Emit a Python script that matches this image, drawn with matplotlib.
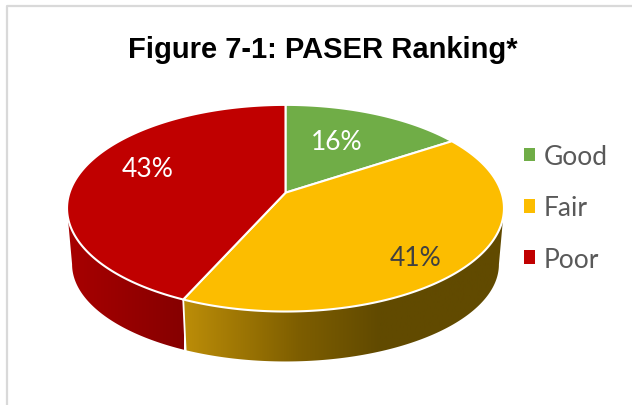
import numpy as np
import matplotlib
matplotlib.use("Agg")
import matplotlib.pyplot as plt
from matplotlib.colors import LinearSegmentedColormap
from matplotlib.patches import Polygon, Patch

labels = ["Good", "Fair", "Poor"]
values = [15.7, 41.0, 43.3]
colores = ["#70AD47", "#FCBD00", "#C00000"]
texto_pct = ["#FFFFFF", "#404040", "#FFFFFF"]
pos_pct = [(336.5, 143), (416, 259), (148, 170)]

# perspectiva del disco, todo en pixeles
K = 0.15
CX = 285.5
CY = 193.7

def cara(theta, a, b, cy):
    x = CX + a * np.sin(theta) / (1 + K * np.cos(theta))
    y = cy - b * np.cos(theta) / (1 + K * np.cos(theta))
    return np.column_stack([x, y])

def arriba(theta):
    return cara(theta, 216, 101, CY)

def abajo(theta):
    return cara(theta, 211, 95, 250.7)

fig = plt.figure(figsize=(6.32, 4.06), dpi=100)
ax = fig.add_axes([0, 0, 1, 1])

frac = np.array(values) / sum(values)
bordes = np.concatenate([[0], np.cumsum(frac)]) * 2 * np.pi

# puntos donde la pared deja de verse (extremos del disco)
lado_der = np.arccos(-K)
lado_izq = 2 * np.pi - lado_der

# gradientes de la pared lateral
grad_fair = LinearSegmentedColormap.from_list("fair", [(0, "#BC8D08"), (0.35, "#7E5E00"), (0.6, "#614A00"), (1, "#614A00")])
grad_poor = LinearSegmentedColormap.from_list("poor", ["#A80000", "#860000"])
pared = {1: (grad_fair, 184, 510, lado_der, bordes[2]), 2: (grad_poor, 66, 184, bordes[2], lado_izq)}

xx = np.linspace(0, 1, 256).reshape(1, -1)
for i in [2, 1]:
    cmap, x0, x1, t0, t1 = pared[i]
    t = np.linspace(t0, t1, 200)
    poly = Polygon(np.vstack([arriba(t), abajo(t[::-1])]), closed=True, fc="none", ec="none")
    ax.add_patch(poly)
    im = ax.imshow(xx, cmap=cmap, extent=[x0, x1, 406, 0], aspect="auto", zorder=1)
    im.set_clip_path(poly)

# linea blanca entre paredes
t_sep = np.array([bordes[2]])
ax.plot([arriba(t_sep)[0, 0], abajo(t_sep)[0, 0]], [arriba(t_sep)[0, 1], abajo(t_sep)[0, 1]],
        color="white", lw=1.3, zorder=2)

# cara superior
centro = [CX, CY]
for i in range(3):
    t = np.linspace(bordes[i], bordes[i + 1], 200)
    puntos = np.vstack([[centro], arriba(t)])
    ax.add_patch(Polygon(puntos, closed=True, fc=colores[i], ec="white", lw=1.5, joinstyle="round", zorder=3))

for i in range(3):
    ax.text(pos_pct[i][0], pos_pct[i][1], f"{values[i]:.0f}%", color=texto_pct[i], fontsize=19,
            family="Lato", ha="center", va="center", zorder=4)

ax.text(322.5, 50, "Figure 7-1: PASER Ranking*", family="Liberation Sans", fontweight="bold",
        fontsize=21, color="black", ha="center", va="center")

handles = [Patch(fc=c, ec="none") for c in colores]
ax.legend(handles, labels, loc="center left", bbox_to_anchor=(0.829, 0.486), frameon=False,
          prop={"family": "Lato", "size": 19}, labelcolor="#595959", handlelength=0.42,
          handleheight=0.42, handletextpad=0.32, labelspacing=1.0, borderpad=0, borderaxespad=0)

# marco gris: solo arriba e izquierda
ax.plot([6.5, 6.5, 632], [406, 6.5, 6.5], color="#D9D9D9", lw=1.6, zorder=0)

ax.set_xlim(0, 632)
ax.set_ylim(406, 0)
ax.axis("off")
fig.savefig("out.png", dpi=100)
